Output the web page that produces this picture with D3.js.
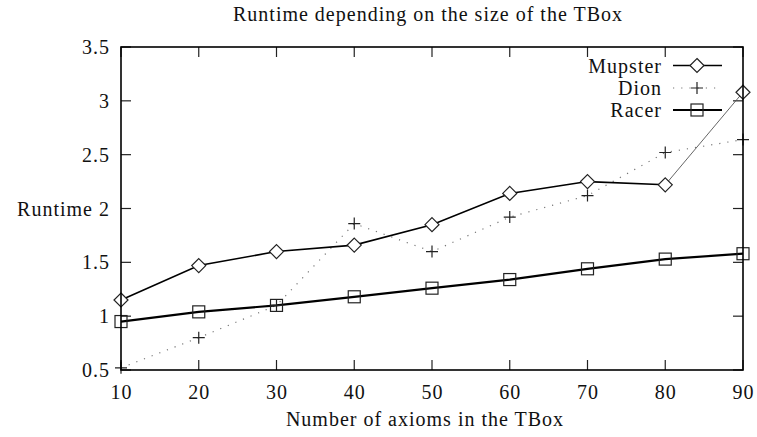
<!DOCTYPE html>
<html>
<head>
<meta charset="utf-8">
<script src="https://cdn.jsdelivr.net/npm/d3@7"></script>
<style>
  body { margin: 0; background: #fff; }
  text { font-family: "Liberation Serif", "DejaVu Serif", serif; fill: #111; }
</style>
</head>
<body>
<div class="chart"></div>
<script>
var axioms = [10, 20, 30, 40, 50, 60, 70, 80, 90];
var mupster = [1.15, 1.47, 1.60, 1.66, 1.85, 2.14, 2.25, 2.22, 3.08];
var dion = [0.52, 0.80, 1.10, 1.86, 1.60, 1.92, 2.12, 2.52, 2.64];
var racer = [0.95, 1.04, 1.10, 1.18, 1.26, 1.34, 1.44, 1.53, 1.58];
var yTicks = [0.5, 1, 1.5, 2, 2.5, 3, 3.5];

var svgWidth = 757, svgHeight = 437;
var margin = { top: 47, right: 14, bottom: 67, left: 121 };
var width = svgWidth - margin.left - margin.right;
var height = svgHeight - margin.top - margin.bottom;

var svg = d3.select(".chart").append("svg")
  .attr("width", svgWidth)
  .attr("height", svgHeight);

var chart = svg.append("g")
  .attr("transform", "translate(" + margin.left + "," + margin.top + ")");

var x = d3.scaleLinear().domain([10, 90]).range([0, width]);
var y = d3.scaleLinear().domain([0.5, 3.5]).range([height, 0]);

var fs = 20, ls = 1;
function styleText(sel) {
  return sel.style("font-size", fs + "px").style("letter-spacing", ls + "px");
}

// ticks on all four sides, pointing inward
chart.append("g").call(d3.axisBottom(x).tickValues(axioms).tickSize(0).tickPadding(15))
  .attr("transform", "translate(0," + height + ")")
  .call(function(g) { g.select(".domain").remove(); });
chart.append("g").call(d3.axisLeft(y).tickValues(yTicks).tickSize(0).tickPadding(11)
    .tickFormat(function(d) { return d === 2 ? "" : d3.format("")(d); }))
  .call(function(g) { g.select(".domain").remove(); });
styleText(chart.selectAll(".tick text")).attr("font-family", null).attr("fill", "#111");

var tl = 10;
chart.append("g").selectAll("line").data(axioms).enter().append("line")
  .attr("x1", function(d) { return x(d); }).attr("x2", function(d) { return x(d); })
  .attr("y1", height).attr("y2", height - tl);
chart.append("g").selectAll("line").data(axioms).enter().append("line")
  .attr("x1", function(d) { return x(d); }).attr("x2", function(d) { return x(d); })
  .attr("y1", 0).attr("y2", tl);
chart.append("g").selectAll("line").data(yTicks).enter().append("line")
  .attr("x1", 0).attr("x2", tl)
  .attr("y1", function(d) { return y(d); }).attr("y2", function(d) { return y(d); });
chart.append("g").selectAll("line").data(yTicks).enter().append("line")
  .attr("x1", width).attr("x2", width - tl)
  .attr("y1", function(d) { return y(d); }).attr("y2", function(d) { return y(d); });
chart.selectAll("g line").attr("stroke", "#222").attr("stroke-width", 1.2);

var line = d3.line()
  .x(function(d, i) { return x(axioms[i]); })
  .y(function(d) { return y(d); });

// Dion: sparse dots
chart.append("path").datum(dion)
  .attr("d", line).attr("fill", "none")
  .attr("stroke", "#777").attr("stroke-width", 1.2)
  .attr("stroke-dasharray", "1.2,7");

// Racer: heavy solid
chart.append("path").datum(racer)
  .attr("d", line).attr("fill", "none")
  .attr("stroke", "#000").attr("stroke-width", 2.2);

// Mupster: solid, last segment drawn thin as in the reference
chart.append("path").datum(mupster.slice(0, 8))
  .attr("d", line).attr("fill", "none")
  .attr("stroke", "#000").attr("stroke-width", 1.6);
chart.append("line")
  .attr("x1", x(axioms[7])).attr("y1", y(mupster[7]))
  .attr("x2", x(axioms[8])).attr("y2", y(mupster[8]))
  .attr("stroke", "#555").attr("stroke-width", 0.9);

function diamond(g, cx, cy) {
  var r = 7;
  g.append("path")
    .attr("d", "M" + cx + "," + (cy - r) + "L" + (cx + r) + "," + cy + "L" + cx + "," + (cy + r) + "L" + (cx - r) + "," + cy + "Z")
    .attr("fill", "#fff").attr("stroke", "#222").attr("stroke-width", 1.2);
}
function plus(g, cx, cy) {
  var r = 6;
  g.append("path")
    .attr("d", "M" + (cx - r) + "," + cy + "H" + (cx + r) + "M" + cx + "," + (cy - r) + "V" + (cy + r))
    .attr("fill", "none").attr("stroke", "#222").attr("stroke-width", 1.2);
}
function square(g, cx, cy) {
  var r = 6;
  g.append("rect").attr("x", cx - r).attr("y", cy - r).attr("width", 2 * r).attr("height", 2 * r)
    .attr("fill", "none").attr("stroke", "#222").attr("stroke-width", 1.2);
}

var marks = chart.append("g");
racer.forEach(function(d, i) { square(marks, x(axioms[i]), y(d)); });
dion.forEach(function(d, i) { plus(marks, x(axioms[i]), y(d)); });
mupster.forEach(function(d, i) { diamond(marks, x(axioms[i]), y(d)); });

// frame
chart.append("rect").attr("width", width).attr("height", height)
  .attr("fill", "none").attr("stroke", "#000").attr("stroke-width", 1.6);

// legend
var legend = [
  { name: "Mupster", mark: diamond, dash: null, w: 1.6, c: "#000", y: 65.5 },
  { name: "Dion", mark: plus, dash: "1.2,7", w: 1.2, c: "#777", y: 88 },
  { name: "Racer", mark: square, dash: null, w: 2.2, c: "#000", y: 110 }
];
legend.forEach(function(l) {
  styleText(svg.append("text").attr("x", 662).attr("y", l.y).attr("dy", "0.35em")
    .attr("text-anchor", "end")).text(l.name);
  svg.append("line").attr("x1", 673).attr("x2", 722).attr("y1", l.y).attr("y2", l.y)
    .attr("stroke", l.c).attr("stroke-width", l.w).attr("stroke-dasharray", l.dash);
  l.mark(svg, 697, l.y);
});

// titles
styleText(svg.append("text").attr("x", 428).attr("y", 21).attr("text-anchor", "middle"))
  .text("Runtime depending on the size of the TBox");
styleText(svg.append("text").attr("x", 425).attr("y", 426).attr("text-anchor", "middle"))
  .text("Number of axioms in the TBox");
styleText(svg.append("text").attr("x", 110).attr("y", margin.top + y(2)).attr("dy", "0.35em")
  .attr("text-anchor", "end")).text("Runtime 2");
</script>
</body>
</html>
